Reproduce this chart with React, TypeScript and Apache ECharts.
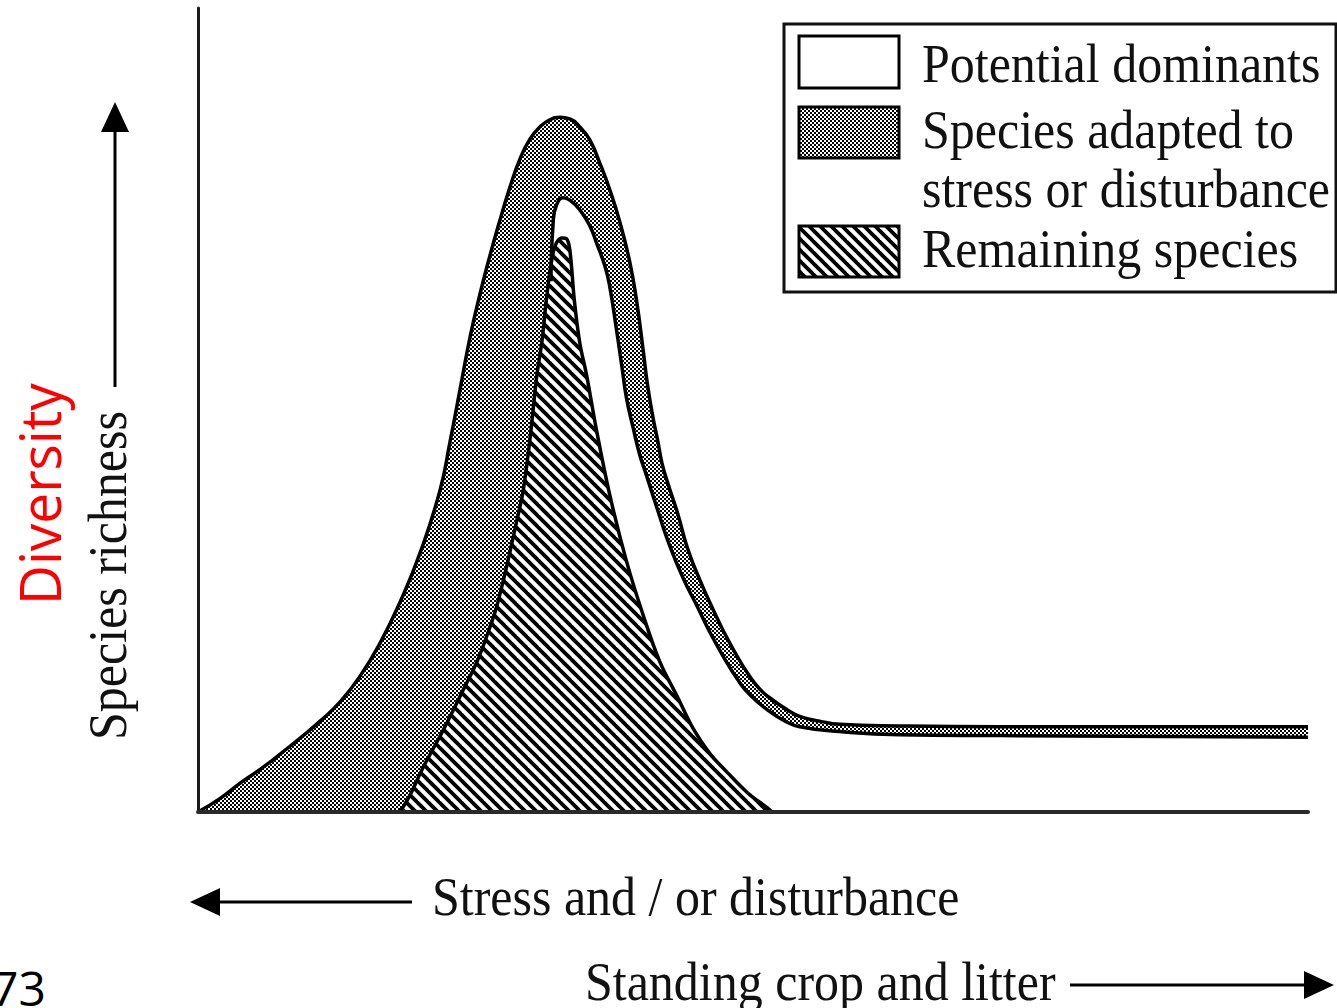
import React, { useEffect, useRef } from 'react';
import * as echarts from 'echarts';

// Boundary curves (x: 0-100 along the axis, y: 0-100 up the axis)
const stressAdapted: [number, number][] = [
  [0, 0], [2.0, 1.7], [3.8, 3.6], [5.6, 5.3], [7.4, 7.2], [9.2, 9.2], [11.0, 11.3], [12.8, 13.7],
  [14.6, 16.9], [16.4, 21.0], [18.2, 26.1], [20.0, 32.2], [21.8, 40.0], [22.7, 46.0], [23.6, 52.5],
  [24.5, 59.0], [25.4, 64.4], [26.3, 69.2], [27.2, 73.6], [28.1, 77.7], [29.0, 81.2], [29.9, 83.7],
  [30.8, 85.2], [31.7, 86.1], [32.6, 86.4], [33.5, 86.2], [34.4, 85.2], [35.3, 83.6], [36.2, 80.7],
  [37.1, 77.4], [38.0, 73.4], [38.9, 68.4], [39.5, 63.7], [40.1, 57.5], [40.5, 53.1], [41.0, 49.0],
  [41.4, 46.3], [41.8, 43.4], [42.3, 41.0], [43.2, 37.2], [44.1, 32.8], [45.2, 28.9], [46.3, 25.5],
  [47.3, 22.6], [48.4, 19.8], [49.5, 17.3], [50.6, 15.3], [51.8, 13.9], [53.1, 12.7], [54.2, 11.9],
  [56.0, 11.3], [57.8, 10.9], [63.2, 10.7], [72.3, 10.6], [81.3, 10.6], [90.3, 10.6], [100, 10.6],
];

const potentialDominants: [number, number][] = [
  [31.8, 66.0], [32.0, 73.4], [32.3, 75.5], [32.9, 76.4], [33.5, 76.1], [34.4, 74.9], [35.3, 72.9],
  [35.9, 70.8], [36.7, 67.7], [37.1, 65.3], [37.7, 60.0], [38.2, 55.3], [38.6, 51.5], [39.2, 47.8],
  [39.8, 44.4], [40.3, 42.3], [41.4, 37.6], [42.5, 33.1], [43.7, 29.1], [45.0, 25.5], [46.1, 22.4],
  [47.3, 19.4], [48.6, 16.5], [49.7, 14.6], [51.3, 12.7], [52.9, 11.3], [54.2, 10.6], [57.8, 10.0],
  [63.2, 9.6], [72.3, 9.5], [100, 9.3],
];

const remainingSpecies: [number, number][] = [
  [18.2, 0], [19.1, 2.1], [20.3, 5.6], [22.1, 10.2], [23.9, 15.2], [25.2, 18.9], [26.3, 23.0],
  [26.9, 25.5], [27.8, 30.5], [28.7, 36.1], [29.3, 40.0], [29.9, 46.3], [30.5, 54.0], [31.0, 58.7],
  [31.4, 63.9], [31.9, 68.9], [32.3, 70.8], [32.8, 71.4], [33.2, 71.3], [33.5, 69.9], [33.9, 63.7],
  [34.4, 58.3], [35.0, 54.4], [35.9, 47.5], [37.1, 39.4], [38.6, 31.2], [40.1, 24.5], [41.6, 18.7],
  [43.2, 14.3], [44.6, 10.4], [46.1, 7.3], [47.7, 4.9], [49.5, 2.4], [51.3, 0.5], [51.7, 0],
];

const legendLines = ['Potential dominants', 'Species adapted to', 'stress or disturbance', 'Remaining species'];
const yAxisTitle = 'Species richness';
const diversityLabel = 'Diversity';
const stressLabel = 'Stress and / or disturbance';
const cropLabel = 'Standing crop and litter';
const pageNumber = '73';

function makeChecker() {
  const c = document.createElement('canvas');
  c.width = 4;
  c.height = 4;
  const ctx = c.getContext('2d')!;
  ctx.fillStyle = '#000';
  ctx.fillRect(0, 0, 4, 4);
  ctx.fillStyle = '#fff';
  ctx.fillRect(0, 0, 2, 2);
  ctx.fillRect(2, 2, 2, 2);
  return { image: c, repeat: 'repeat', imageWidth: 4, imageHeight: 4 };
}

function makeHatch() {
  const p = 11;
  const c = document.createElement('canvas');
  c.width = p;
  c.height = p;
  const ctx = c.getContext('2d')!;
  ctx.fillStyle = '#fff';
  ctx.fillRect(0, 0, p, p);
  ctx.strokeStyle = '#000';
  ctx.lineWidth = 3.8;
  for (const o of [-p, 0, p]) {
    ctx.beginPath();
    ctx.moveTo(o - 2, -2);
    ctx.lineTo(o + p + 2, p + 2);
    ctx.stroke();
  }
  return { image: c, repeat: 'repeat', imageWidth: p, imageHeight: p };
}

const SERIF = '"Liberation Serif", "Times New Roman", serif';
const SANS = '"Open Sans", "Noto Sans", sans-serif';

function serifText(text: string, x: number, baseline: number, opts: any = {}) {
  return {
    type: 'text',
    x,
    y: baseline,
    rotation: opts.rotation || 0,
    scaleY: 1.08,
    z: 100,
    style: {
      text,
      x: 0,
      y: -17,
      fill: '#111',
      fontSize: 50,
      fontFamily: SERIF,
      textAlign: 'left',
      align: 'left',
      textVerticalAlign: 'middle',
      verticalAlign: 'middle',
    },
  };
}

export default function App() {
  const ref = useRef<HTMLDivElement>(null);

  useEffect(() => {
    if (!ref.current) return;
    const chart = echarts.init(ref.current, null, { renderer: 'svg' });
    const checker = makeChecker();
    const hatch = makeHatch();

    const lineStyle = { color: '#000', width: 3.5, join: 'round' };

    const option: any = {
      animation: false,
      backgroundColor: '#fff',
      grid: { left: 198, right: 29, top: 8, bottom: 196, containLabel: false },
      xAxis: {
        type: 'value',
        min: 0,
        max: 100,
        z: 5,
        axisLine: { show: true, onZero: false, lineStyle: { color: '#2a2a2a', width: 4 } },
        axisTick: { show: false },
        axisLabel: { show: false },
        splitLine: { show: false },
      },
      yAxis: {
        type: 'value',
        min: 0,
        max: 100,
        z: 5,
        axisLine: { show: true, onZero: false, lineStyle: { color: '#1a1a1a', width: 3 } },
        axisTick: { show: false },
        axisLabel: { show: false },
        splitLine: { show: false },
      },
      series: [
        {
          name: 'Species adapted to stress or disturbance',
          type: 'line',
          data: stressAdapted,
          symbol: 'none',
          smooth: 0.5,
          silent: true,
          lineStyle,
          itemStyle: { color: '#000' },
          areaStyle: { color: checker, opacity: 1 },
          emphasis: { disabled: true },
        },
        {
          name: 'Potential dominants',
          type: 'line',
          data: potentialDominants,
          symbol: 'none',
          smooth: 0.5,
          silent: true,
          lineStyle,
          itemStyle: { color: '#000' },
          areaStyle: { color: '#fff', opacity: 1 },
          emphasis: { disabled: true },
        },
        {
          name: 'Remaining species',
          type: 'line',
          data: remainingSpecies,
          symbol: 'none',
          smooth: 0.35,
          silent: true,
          lineStyle,
          itemStyle: { color: '#000' },
          areaStyle: { color: hatch, opacity: 1 },
          emphasis: { disabled: true },
        },
      ],
      graphic: {
        elements: [
          // legend box
          { type: 'rect', z: 90, shape: { x: 784, y: 24, width: 552, height: 268 }, style: { fill: '#fff', stroke: '#111', lineWidth: 3 } },
          { type: 'rect', z: 95, shape: { x: 799, y: 36, width: 100, height: 52 }, style: { fill: '#fff', stroke: '#000', lineWidth: 3 } },
          { type: 'rect', z: 95, shape: { x: 799, y: 107, width: 100, height: 51 }, style: { fill: checker, stroke: '#000', lineWidth: 3 } },
          { type: 'rect', z: 95, shape: { x: 799, y: 226, width: 100, height: 51 }, style: { fill: hatch, stroke: '#000', lineWidth: 3 } },
          serifText(legendLines[0], 922, 82),
          serifText(legendLines[1], 922, 148),
          serifText(legendLines[2], 922, 207),
          serifText(legendLines[3], 922, 267),
          // y axis title with arrow
          serifText(yAxisTitle, 126, 740, { rotation: Math.PI / 2 }),
          { type: 'line', z: 100, shape: { x1: 115, y1: 387, x2: 115, y2: 126 }, style: { stroke: '#000', lineWidth: 3 } },
          { type: 'polygon', z: 100, shape: { points: [[115, 102], [101, 132], [129, 132]] }, style: { fill: '#000' } },
          {
            type: 'text',
            z: 100,
            x: 60,
            y: 605,
            rotation: Math.PI / 2,
            scaleY: 1.03,
            style: {
              text: diversityLabel,
              x: 0,
              y: -21,
              fill: '#ff0000',
              fontSize: 55,
              fontFamily: SANS,
              textAlign: 'left',
              align: 'left',
              textVerticalAlign: 'middle',
              verticalAlign: 'middle',
            },
          },
          // bottom labels and arrows
          { type: 'line', z: 100, shape: { x1: 214, y1: 902, x2: 412, y2: 902 }, style: { stroke: '#000', lineWidth: 3 } },
          { type: 'polygon', z: 100, shape: { points: [[190, 902], [220, 888], [220, 916]] }, style: { fill: '#000' } },
          serifText(stressLabel, 432, 915),
          serifText(cropLabel, 585, 1000),
          { type: 'line', z: 100, shape: { x1: 1070, y1: 985, x2: 1310, y2: 985 }, style: { stroke: '#000', lineWidth: 3 } },
          { type: 'polygon', z: 100, shape: { points: [[1334, 985], [1304, 971], [1304, 999]] }, style: { fill: '#000' } },
          {
            type: 'text',
            z: 100,
            x: 46,
            y: 1005,
            style: {
              text: pageNumber,
              x: 0,
              y: -18,
              fill: '#000',
              fontSize: 48,
              fontFamily: SANS,
              textAlign: 'right',
              align: 'right',
              textVerticalAlign: 'middle',
              verticalAlign: 'middle',
            },
          },
        ],
      },
    };

    chart.setOption(option);
    return () => chart.dispose();
  }, []);

  return (
    <div
      ref={ref}
      style={{ position: 'fixed', left: 0, top: 0, width: 1337, height: 1008, background: '#fff' }}
    />
  );
}
